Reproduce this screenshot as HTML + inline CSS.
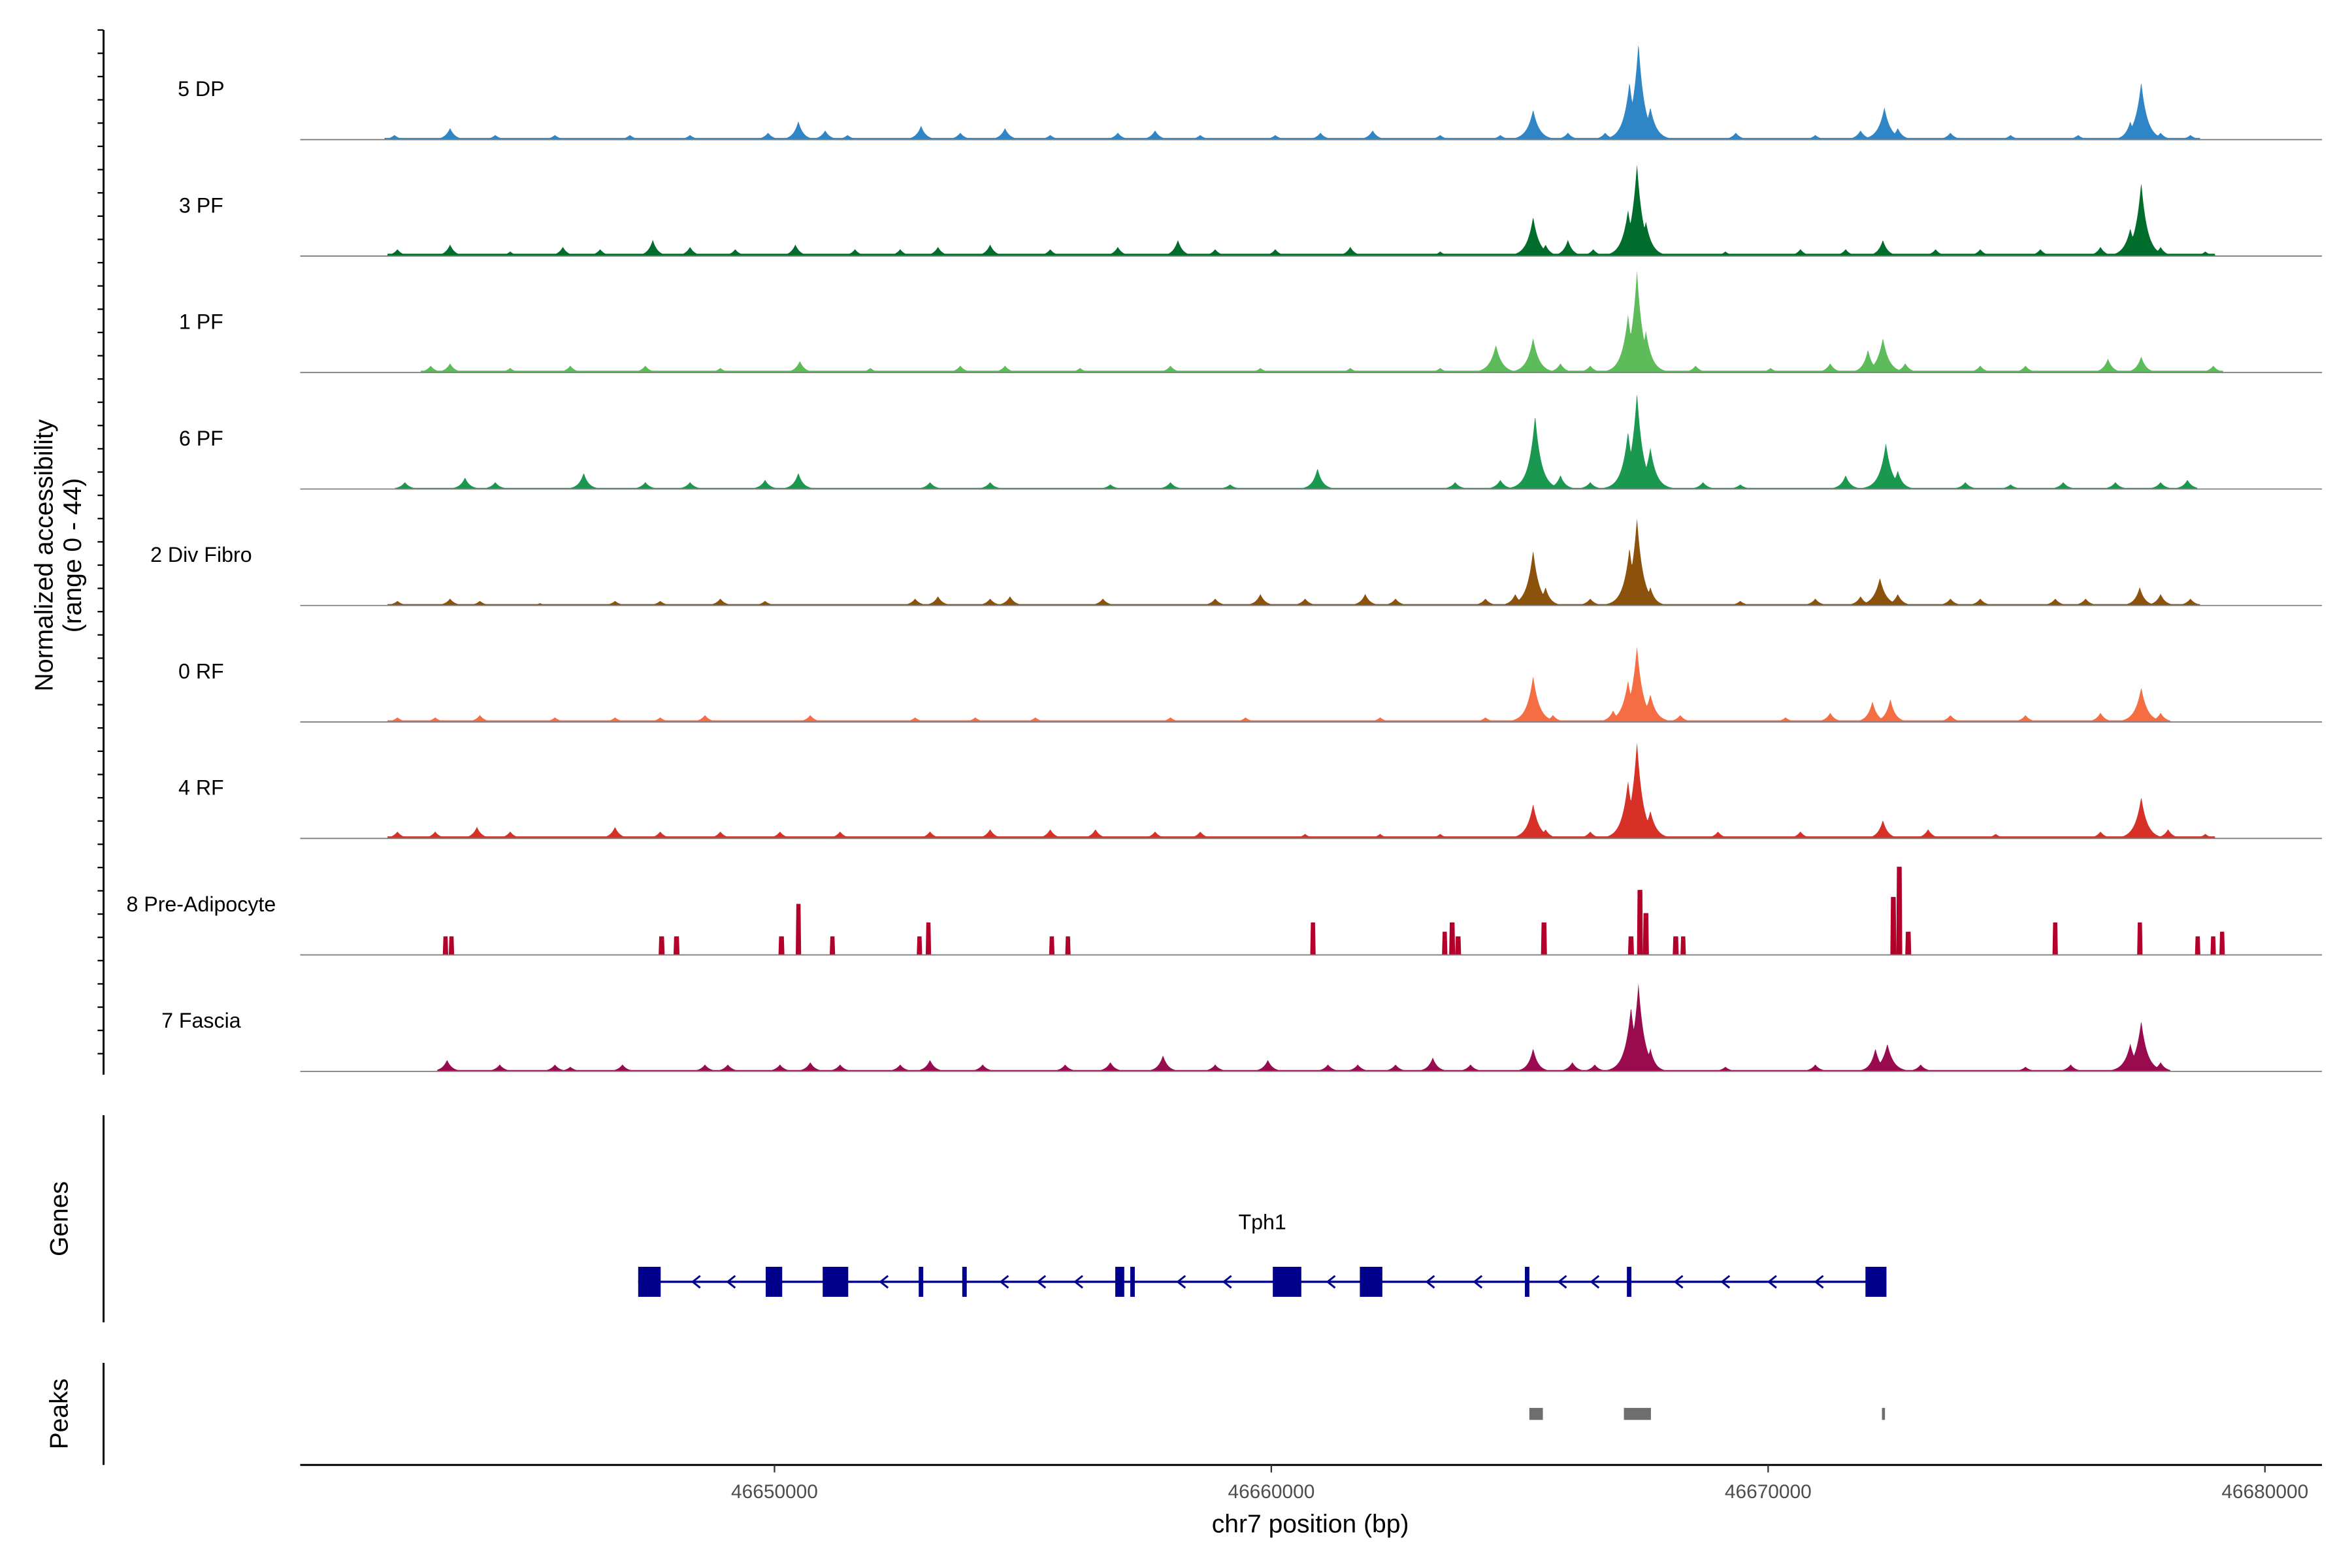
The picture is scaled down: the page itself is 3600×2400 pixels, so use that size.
<!DOCTYPE html>
<html><head><meta charset="utf-8"><style>
html,body{margin:0;padding:0;background:#fff;width:3600px;height:2400px;overflow:hidden;}
svg{display:block;font-family:"Liberation Sans",sans-serif;}
</style></head><body>
<svg id="chart" width="3600" height="2400" viewBox="0 0 1567 1044.67" xmlns="http://www.w3.org/2000/svg">
<rect width="1567" height="1044.67" fill="#fff"/>
<g id="tracks"></g>
<g id="leftaxis"></g>
<text transform="translate(35,370) rotate(-90)" text-anchor="middle" font-size="17" fill="#000">Normalized accessibility</text>
<text transform="translate(54,370) rotate(-90)" text-anchor="middle" font-size="17" fill="#000">(range 0 - 44)</text>
<line x1="69" y1="743" x2="69" y2="881" stroke="#000" stroke-width="1.3"/>
<text transform="translate(45,812) rotate(-90)" text-anchor="middle" font-size="17">Genes</text>
<line x1="69" y1="908" x2="69" y2="976" stroke="#000" stroke-width="1.3"/>
<text transform="translate(45,942) rotate(-90)" text-anchor="middle" font-size="17">Peaks</text>
<g id="genes"></g>
<g id="peaks"></g>
<g id="xaxis"></g>
<text x="873" y="1021" text-anchor="middle" font-size="17">chr7 position (bp)</text>
</svg>
<script>
// ---- data (positions in kb on chr7, values normalized accessibility 0-44) ----
const trackNames = ["5 DP","3 PF","1 PF","6 PF","2 Div Fibro","0 RF","4 RF","8 Pre-Adipocyte","7 Fascia"];
const trackColors = ["#2f86c6","#006d2c","#5dbb5a","#1a9850","#8c510a","#f46d43","#d73027","#b2002a","#990a4f"];
const trackBackground = [0.7,1.0,0.8,0.5,0.6,0.7,0.9,0,0.6];
const pos5DP=[46642.35,46643.47,46644.38,46645.58,46647.09,46648.30,46649.87,46650.48,46651.02,46651.47,46652.95,46653.74,46654.64,46655.55,46656.91,46657.66,46658.57,46660.08,46660.99,46662.04,46663.40,46664.61,46665.27,46665.97,46666.72,46667.21,46667.39,46667.63,46669.35,46670.95,46671.86,46672.34,46672.61,46673.67,46674.88,46676.24,46677.29,46677.51,46677.90,46678.50];
const val5DP=[2,5,2,2,2,2,3,8,4,2,6,3,5,2,3,4,2,2,3,4,2,2,13,3,3,25,42,14,3,2,4,14,5,3,2,2,8,25,3,2];
const pos3PF=[46642.41,46643.47,46644.68,46645.74,46646.49,46647.55,46648.30,46649.21,46650.42,46651.62,46652.53,46653.29,46654.34,46655.55,46656.91,46658.12,46658.87,46660.08,46661.59,46663.40,46665.27,46665.52,46665.97,46666.48,46667.18,46667.36,46667.54,46669.14,46670.65,46671.56,46672.31,46673.37,46674.27,46675.48,46676.69,46677.29,46677.51,46677.90,46678.80];
const val3PF=[3,5,2,4,3,7,4,3,5,3,3,4,5,3,4,7,3,3,4,2,17,5,7,3,20,40,15,2,3,3,7,3,3,3,4,12,32,4,2];
const pos1PF=[46643.08,46643.47,46644.68,46645.89,46647.40,46648.91,46650.51,46651.93,46653.74,46654.64,46656.15,46657.97,46659.78,46661.59,46663.40,46664.52,46665.27,46665.82,46666.42,46667.18,46667.36,46667.54,46668.54,46670.05,46671.25,46672.01,46672.31,46672.76,46674.27,46675.18,46676.84,46677.51,46678.96];
const val1PF=[3,4,2,3,3,2,5,2,3,3,2,3,2,2,2,12,15,4,3,25,44,18,3,2,4,10,15,4,3,3,6,7,3];
const pos6PF=[46642.56,46643.77,46644.38,46646.16,46647.40,46648.30,46649.81,46650.48,46653.13,46654.34,46656.76,46657.97,46659.17,46660.93,46663.70,46664.61,46665.31,46665.82,46666.42,46667.18,46667.36,46667.63,46668.69,46669.44,46671.56,46672.37,46672.61,46673.97,46674.88,46675.94,46676.99,46677.90,46678.44];
const val6PF=[3,5,3,7,3,3,4,7,3,3,2,3,2,9,3,4,32,6,3,25,42,18,3,2,6,20,8,3,2,3,3,3,4];
const posDiv=[46642.41,46643.47,46644.07,46645.28,46646.79,46647.70,46648.91,46649.81,46652.83,46653.29,46654.34,46654.74,46656.61,46658.87,46659.78,46660.68,46661.89,46662.50,46664.31,46664.91,46665.27,46665.52,46666.42,46667.21,46667.36,46667.63,46669.44,46670.95,46671.86,46672.25,46672.61,46673.67,46674.27,46675.78,46676.39,46677.48,46677.90,46678.50];
const valDiv=[2,3,2,1,2,2,3,2,3,4,3,4,3,3,5,3,5,3,3,5,24,8,3,25,38,8,2,3,4,12,5,3,3,3,3,8,5,3];
const pos0RF=[46642.41,46643.17,46644.07,46645.58,46646.79,46647.70,46648.60,46650.72,46652.83,46654.04,46655.25,46657.97,46659.48,46662.19,46664.31,46665.27,46665.67,46666.88,46667.18,46667.36,46667.63,46668.23,46670.35,46671.25,46672.10,46672.46,46673.67,46675.18,46676.69,46677.51,46677.90];
const val0RF=[2,2,3,2,2,2,3,3,2,2,2,2,2,2,2,20,3,5,18,33,12,3,2,4,9,10,3,3,4,15,4];
const pos4RF=[46642.41,46643.17,46644.01,46644.68,46646.79,46647.70,46648.91,46650.11,46651.32,46653.13,46654.34,46655.55,46656.46,46657.66,46658.57,46660.68,46662.19,46663.40,46665.27,46665.52,46666.42,46667.18,46667.36,46667.63,46668.99,46670.65,46672.31,46673.22,46674.58,46676.69,46677.51,46678.05,46678.80];
const val4RF=[3,3,5,3,5,3,3,3,3,3,4,4,4,3,3,2,2,2,15,4,3,25,42,12,3,3,8,4,2,3,18,4,2];
const posPre=[46643.38,46643.50,46647.73,46648.03,46650.14,46650.48,46651.17,46652.92,46653.10,46655.58,46655.91,46660.84,46663.49,46663.64,46663.76,46665.49,46667.24,46667.42,46667.54,46668.14,46668.29,46672.52,46672.64,46672.82,46675.78,46677.48,46678.65,46678.96,46679.14];
const valPre=[8,8,8,8,8,22,8,8,14,8,8,14,10,14,8,14,8,28,18,8,8,25,38,10,14,14,8,8,10];
const posFas=[46643.41,46644.47,46645.58,46645.89,46646.94,46648.60,46649.06,46650.11,46650.72,46651.32,46652.53,46653.13,46654.19,46655.85,46656.76,46657.82,46658.87,46659.93,46661.14,46661.74,46662.50,46663.25,46664.01,46665.27,46666.06,46666.51,46667.24,46667.39,46667.63,46669.14,46670.95,46672.16,46672.40,46673.07,46675.18,46676.09,46677.29,46677.51,46677.90];
const valFas=[5,3,3,2,3,3,3,3,4,3,3,5,3,3,4,7,3,5,3,3,3,6,3,10,4,3,28,38,10,2,3,10,12,3,2,3,12,22,4];
const trackPos=[pos5DP,pos3PF,pos1PF,pos6PF,posDiv,pos0RF,pos4RF,posPre,posFas];
const trackVals=[val5DP,val3PF,val1PF,val6PF,valDiv,val0RF,val4RF,valPre,valFas];
const xTicks=[46650000,46660000,46670000,46680000];
const exonStarts=[46647256,46649823,46650970,46652903,46653779,46656859,46657161,46660030,46661782,46665104,46667157,46671959];
const exonEnds=[46647709,46650155,46651484,46652994,46653869,46657040,46657252,46660604,46662235,46665194,46667248,46672382];
const geneName="Tph1";
const peakStarts=[46665194,46667097,46672291];
const peakEnds=[46665466,46667641,46672352];

// ---- scales ----
const NS="http://www.w3.org/2000/svg";
const bpMin=46640453, bpMax=46681148, pxMin=200, pxMax=1547;
function xs(bp){return pxMin+(bp-bpMin)/(bpMax-bpMin)*(pxMax-pxMin);}
const yMaxVal=44, trackH=68, base0=93, trackStep=77.6;
function mk(tag,attrs,parent){const e=document.createElementNS(NS,tag);for(const k in attrs)e.setAttribute(k,attrs[k]);parent.appendChild(e);return e;}

const gT=document.getElementById('tracks');
trackNames.forEach((name,i)=>{
  const by=base0+i*trackStep;
  const g=mk('g',{},gT);
  
  
  const lab=mk('text',{x:134,y:by-29,'text-anchor':'middle','font-size':14,fill:'#000'},g);
  lab.textContent=name;
  
  
  const pos=trackPos[i], vals=trackVals[i];
  const narrow=(i===7);
  const startKb=pos[0]-0.2, endKb=pos[pos.length-1]+0.2;
  let d='M'+xs(startKb*1000).toFixed(2)+','+by;
  for(let kb=startKb;kb<=endKb;kb+=0.012){
    let v=0;
    for(let j=0;j<pos.length;j++){
      const s=narrow?0.05:(vals[j]>10?0.1:0.08);
      const dx=(kb-pos[j])/s;
      if(Math.abs(dx)>5)continue;
      if(narrow){ if(Math.abs(dx)<1) v=Math.max(v,vals[j]); }
      else v=Math.max(v,vals[j]*Math.exp(-Math.abs(dx)*0.8));
    }
    if(!narrow) v=Math.max(v,trackBackground[i]);
    v=Math.min(v,yMaxVal);
    d+=' L'+xs(kb*1000).toFixed(2)+','+(by-v/yMaxVal*trackH).toFixed(2);
  }
  d+=' L'+xs(endKb*1000).toFixed(2)+','+by+' Z';
  const p=mk('path',{d:d,fill:trackColors[i],stroke:'none'},g);
  
  
  const bl=mk('line',{x1:pxMin,x2:pxMax,y1:by,y2:by,stroke:'#7f7f7f','stroke-width':0.8},g);
  
  
});

// left axis with ticks
const gL=document.getElementById('leftaxis');
mk('line',{x1:69,y1:20,x2:69,y2:716,stroke:'#000','stroke-width':1.3},gL);
for(let y=20;y<=716;y+=15.5){mk('line',{x1:65,x2:69,y1:y,y2:y,stroke:'#000','stroke-width':1},gL);}

// genes
const gG=document.getElementById('genes');
const gy=854;
const first=Math.min(...exonStarts), last=Math.max(...exonEnds);
mk('line',{x1:xs(first),x2:xs(last),y1:gy,y2:gy,stroke:'#00008b','stroke-width':1.5},gG);
const gl=mk('text',{x:xs((first+last)/2)+0,y:819,'text-anchor':'middle','font-size':14},gG);
gl.textContent=geneName;


for(let k=0;k<exonStarts.length-1;k++){
  const a=xs(exonEnds[k]), b=xs(exonStarts[k+1]);
  const n=Math.floor((b-a)/32);
  for(let m=1;m<=n;m++){
    const cx=a+(b-a)*m/(n+1);
    mk('path',{d:`M${cx+3},${gy-4} L${cx-2},${gy} L${cx+3},${gy+4}`,fill:'none',stroke:'#00008b','stroke-width':1.3},gG);
  }
}
exonStarts.forEach((s,k)=>{
  const x0=xs(s), w=Math.max(3,xs(exonEnds[k])-x0);
  const r=mk('rect',{x:x0,y:gy-10,width:w,height:20,fill:'#00008b'},gG);
  
  
});

// peaks
const gP=document.getElementById('peaks');
peakStarts.forEach((s,k)=>{
  const x0=xs(s), w=Math.max(2,xs(peakEnds[k])-x0);
  const r=mk('rect',{x:x0,y:938,width:w,height:8,fill:'#6e6e6e'},gP);
  
  
});

// x axis
const gX=document.getElementById('xaxis');
mk('line',{x1:pxMin,x2:pxMax,y1:976,y2:976,stroke:'#000','stroke-width':1.3},gX);
xTicks.forEach(t=>{
  const x=xs(t);
  mk('line',{x1:x,x2:x,y1:976,y2:981,stroke:'#333','stroke-width':1},gX);
  const tl=mk('text',{x:x,y:998,'text-anchor':'middle','font-size':13,fill:'#4d4d4d'},gX);
  tl.textContent=String(t);
  
  
});
</script>
</body></html>
